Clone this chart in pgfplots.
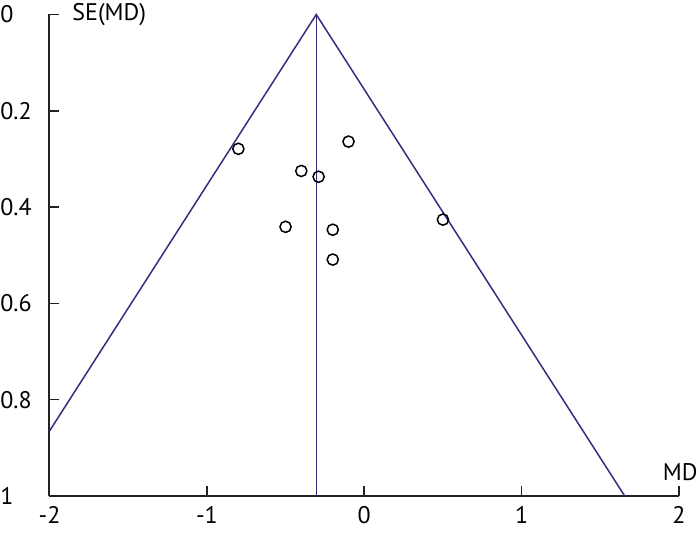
\documentclass[border=0pt]{standalone}
\usepackage{pgfplots}
\pgfplotsset{compat=1.18}
\usepackage{fontspec}
\setmainfont{PT Sans}
\definecolor{funnel}{HTML}{3B2A7F}
\definecolor{axgray}{HTML}{222222}
\begin{document}
\fontsize{12}{14}\selectfont
\begin{tikzpicture}[x=1pt,y=1pt]
\useasboundingbox (-24.75,-18.5) rectangle (325.25,248);
\begin{axis}[
  at={(0,0)}, anchor=south west,
  scale only axis, width=314.75pt, height=240.75pt,
  xmin=-2, xmax=2, ymin=-1, ymax=0,
  axis x line=bottom, axis y line=left,
  axis line style={-, axgray, line width=1pt},
  tick style={axgray, line width=0.8pt},
  tick align=inside, major tick length=5pt,
  xtick={-2,-1,0,1,2},
  ytick={-1,-0.8,-0.6,-0.4,-0.2,0},
  yticklabels={1,0.8,0.6,0.4,0.2,0},
  /pgf/number format/assume math mode=true,
  ticklabel style={font=\fontsize{12}{14}\selectfont},
  yticklabel style={anchor=west, xshift=-24.75pt, inner sep=0pt},
  xticklabel style={yshift=-1pt},
  clip=false,
]
\addplot[funnel, line width=0.75pt] coordinates {(-2,-0.865) (-0.305,0) (1.655,-1)};
\addplot[funnel, line width=0.75pt] coordinates {(-0.305,0) (-0.305,-1)};
\addplot[only marks, mark=o, mark size=2.8pt, mark options={black, line width=0.75pt}] table {
x y
-0.80 -0.279
-0.10 -0.264
-0.40 -0.325
-0.29 -0.337
-0.50 -0.441
-0.20 -0.447
0.50 -0.426
-0.20 -0.509
};
\node[anchor=west, inner sep=0pt] at (rel axis cs:0,1) [xshift=11.25pt] {SE(MD)};
\node[anchor=east, inner sep=0pt] at (rel axis cs:1,0) [xshift=9.5pt, yshift=12pt] {MD};
\end{axis}
\end{tikzpicture}
\end{document}
